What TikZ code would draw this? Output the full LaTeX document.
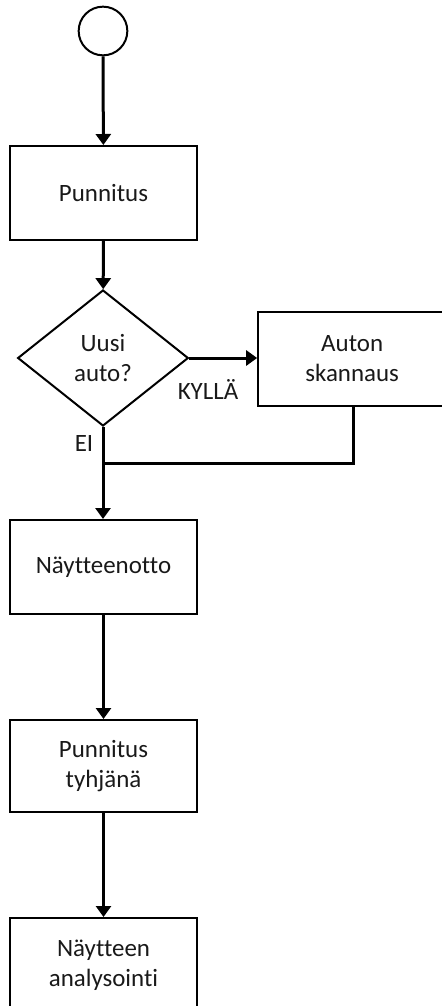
\documentclass[tikz,border=0pt]{standalone}
\usepackage{fontspec}
\setmainfont{Carlito}[Ligatures=NoCommon]
\usetikzlibrary{shapes.geometric,arrows.meta}

\begin{document}
\begin{tikzpicture}[x=0.75pt,y=-0.75pt,
  boite/.style={draw,line width=1.5pt,rectangle,minimum width=140pt,minimum height=70.5pt,inner sep=0pt,align=center},
  choix/.style={draw,line width=1.5pt,diamond,minimum width=128pt,minimum height=102pt,inner sep=0pt,align=center},
  fleche/.style={line width=2.25pt,-{Triangle[width=11.25pt,length=8.25pt]}},
  trait/.style={line width=2.25pt},
  font=\fontsize{18.7}{22.5}\selectfont,text=black!90]

\useasboundingbox (0,0) rectangle (442,1006) ;
\clip (0,0) rectangle (442,1006) ;

% noeuds

\node[draw,line width=1.5pt,circle,minimum size=36.5pt,inner sep=0pt] (n_debut) at (103,31) {} ;
\node[boite] (n_punnitus) at (103.5,193) {Punnitus} ;
\node[choix] (n_uusi) at (103,358) {Uusi\\auto?} ;
\node[boite,minimum width=146pt] (n_skannaus) at (355.5,358.5) {\hspace*{-5pt}Auton\\\hspace*{-5pt}skannaus} ;
\node[boite] (n_naytteenotto) at (103.5,567) {Näytteenotto} ;
\node[boite,minimum height=69pt] (n_tyhja) at (103.5,766) {Punnitus\\tyhjänä} ;
\node[boite] (n_analyysi) at (103.5,965) {Näytteen\\analysointi} ;

\coordinate (pt_jonction) at (103,463) ;

% fleches

\draw[fleche] (n_debut) -- (n_punnitus) ;
\draw[fleche] (n_punnitus) -- (n_uusi) ;
\draw[fleche] (n_uusi.east) -- (n_skannaus.west |- n_uusi.east) ;
\draw[trait] (n_skannaus.south -| 353,0) |- (pt_jonction) ;
\draw[fleche] (n_uusi.south) -- (n_naytteenotto.north -| n_uusi.south) ;
\draw[fleche] (n_naytteenotto) -- (n_tyhja) ;
\draw[fleche] (n_tyhja) -- (n_analyysi) ;

% etiquettes

\node (n_kylla) at (208,390) {KYLLÄ} ;
\node (n_ei) at (84,443) {EI} ;

\end{tikzpicture}
\end{document}
